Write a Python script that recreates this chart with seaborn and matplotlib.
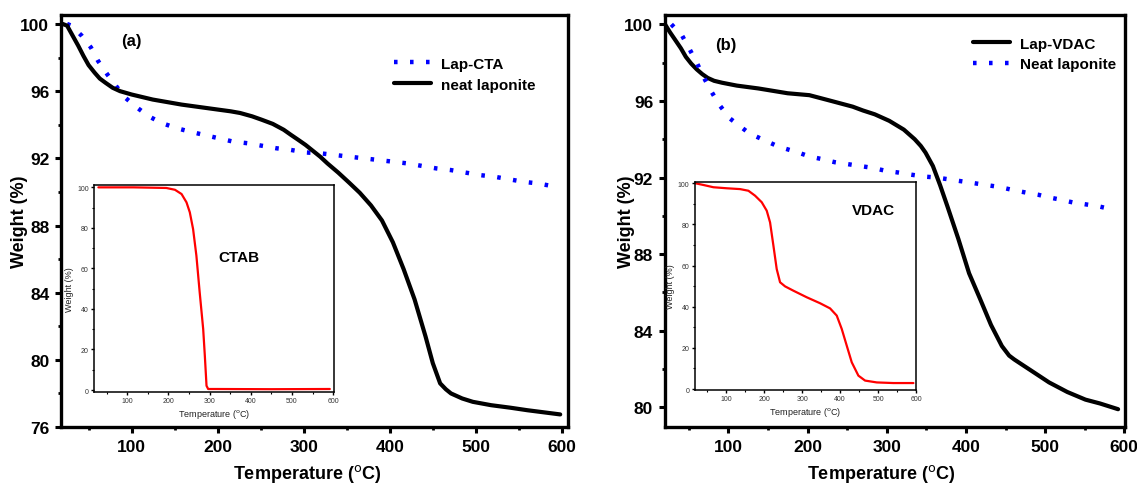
import matplotlib
matplotlib.use("Agg")
import matplotlib.pyplot as plt
import seaborn as sns
import pandas as pd
from matplotlib.ticker import MultipleLocator

# ---------------- data ----------------
# Panel (a)
a_cta_T = [25, 30, 42, 52.7, 61, 71.7, 82, 92.8, 106.8, 120, 135, 152, 166.8, 183.7, 200.6, 217.5,
           234.4, 251.3, 268, 285, 302, 319, 336, 352.7, 369.6, 386.6, 403.5, 420, 437, 454, 471,
           488, 505, 522, 538.7, 555.6, 572.5, 593.6]
a_cta_W = [100, 99.9, 99.3, 98.6, 97.8, 97.0, 96.3, 95.6, 95.0, 94.5, 94.1, 93.8, 93.6, 93.4, 93.2,
           93.0, 92.9, 92.75, 92.6, 92.5, 92.35, 92.3, 92.2, 92.1, 92.0, 91.9, 91.8, 91.7, 91.55,
           91.4, 91.3, 91.15, 91.0, 90.9, 90.75, 90.6, 90.5, 90.3]
a_neat_T = [20, 25, 31.5, 38, 44, 50, 57, 63, 69.6, 78, 86.5, 100, 124.5, 158, 200.6, 215, 226, 240,
            251, 264, 276.7, 285, 293.6, 302, 310.5, 319, 327.4, 340, 352.7, 365, 378, 390.8, 403.5,
            416, 428.7, 441.4, 449.9, 458.4, 465, 471, 484, 496.4, 517.6, 540, 559.8, 597.9]
a_neat_W = [100, 99.9, 99.3, 98.7, 98.1, 97.55, 97.1, 96.75, 96.5, 96.2, 96.0, 95.8, 95.5, 95.2, 94.9,
            94.8, 94.7, 94.5, 94.3, 94.05, 93.7, 93.4, 93.1, 92.8, 92.45, 92.1, 91.7, 91.15, 90.55,
            89.95, 89.2, 88.3, 87.0, 85.4, 83.6, 81.4, 79.8, 78.6, 78.25, 78.0, 77.7, 77.5, 77.3,
            77.15, 77.0, 76.75]
# Inset (a): CTAB
ctab_T = [30, 115, 195, 216, 232, 244, 252, 260, 268, 276, 284.5, 288.5, 292.6, 296.6, 317, 450, 592]
ctab_W = [100, 100, 99.7, 98.8, 96.7, 92.6, 87.7, 79.4, 66.3, 48.2, 30.1, 16.9, 2.1, 0.5, 0.5, 0.4, 0.5]

# Panel (b)
b_vdac_T = [20, 26, 32.6, 40, 46.3, 53, 60, 67, 73.9, 82, 92, 110.6, 138, 174.8, 202.3, 229.8, 257,
            270, 284.9, 303.2, 321.6, 335.3, 343, 349, 358.3, 367.4, 376.6, 390.4, 404, 418, 431.7,
            445.4, 454.6, 461, 468.3, 486.7, 505, 528, 551, 569.3, 592.2]
b_vdac_W = [100, 99.6, 99.2, 98.75, 98.3, 97.95, 97.65, 97.4, 97.2, 97.05, 96.95, 96.8, 96.65, 96.4,
            96.3, 96.0, 95.7, 95.5, 95.3, 94.96, 94.5, 94.0, 93.65, 93.3, 92.6, 91.6, 90.5, 88.8,
            87.0, 85.65, 84.3, 83.2, 82.7, 82.5, 82.3, 81.8, 81.3, 80.8, 80.4, 80.2, 79.9]
b_neat_T = [28, 41.7, 51, 60, 69.3, 78.4, 88.5, 101.4, 114, 126.6, 142.7, 158.7, 172.5, 188.5, 202.3,
            218.3, 234.4, 250.5, 266.5, 282.6, 298.6, 314.7, 330.7, 346.8, 362.8, 378.9, 395, 411,
            427, 443, 459, 477.5, 491.3, 505, 518.8, 534.9, 551, 567, 583]
b_neat_W = [100, 99.4, 98.7, 98.0, 97.2, 96.5, 95.8, 95.1, 94.7, 94.3, 94.0, 93.7, 93.5, 93.3, 93.1,
            92.96, 92.8, 92.7, 92.6, 92.5, 92.35, 92.26, 92.15, 92.05, 92.0, 91.9, 91.8, 91.7,
            91.6, 91.5, 91.35, 91.2, 91.1, 90.96, 90.85, 90.7, 90.6, 90.5, 90.35]
# Inset (b): VDAC
vdac_T = [20, 40.4, 66.7, 101.8, 136.8, 158.8, 176.3, 193.9, 207, 215.8, 224.6, 233.3, 242.1, 255.3,
          277.2, 312.3, 347.4, 373.7, 391.2, 404.4, 417.5, 430.7, 448.2, 465.8, 496.5, 540.4, 593]
vdac_W = [100, 99.2, 98.1, 97.6, 97.2, 96.4, 94.0, 90.8, 86.7, 81.0, 69.7, 58.3, 51.9, 49.9, 47.8,
          44.6, 41.7, 39.2, 35.7, 29.2, 21.1, 13.0, 6.5, 4.1, 3.2, 2.9, 2.9]

# ---------------- style ----------------
sns.set_style("ticks")
plt.rcParams['font.family'] = ['Liberation Sans', 'DejaVu Sans']
plt.rcParams['mathtext.default'] = 'regular'
for k in ['text.color', 'axes.labelcolor', 'axes.edgecolor', 'xtick.color', 'ytick.color']:
    plt.rcParams[k] = 'black'

BLUE = '#0000ff'
DOT = (0, (0.8, 2.8))
XLAB = r"Temperature ($^{\rm o}$C)"

fig = plt.figure(figsize=(11.37, 4.89), dpi=100)
axA = fig.add_axes([0.0537, 0.1247, 0.4459, 0.8431])
axB = fig.add_axes([0.5849, 0.1247, 0.4046, 0.8431])
inA = fig.add_axes([0.0829, 0.1969, 0.2108, 0.4233])
inB = fig.add_axes([0.6113, 0.2010, 0.1944, 0.4254])


def df(T, W):
    return pd.DataFrame({"T": T, "W": W})


# panel a
sns.lineplot(data=df(a_cta_T, a_cta_W), x="T", y="W", ax=axA, color=BLUE, lw=3.2,
             linestyle=DOT, label="Lap-CTA", sort=False)
sns.lineplot(data=df(a_neat_T, a_neat_W), x="T", y="W", ax=axA, color='black', lw=3.0,
             label="neat laponite", sort=False)
# panel b
sns.lineplot(data=df(b_vdac_T, b_vdac_W), x="T", y="W", ax=axB, color='black', lw=3.0,
             label="Lap-VDAC", sort=False)
sns.lineplot(data=df(b_neat_T, b_neat_W), x="T", y="W", ax=axB, color=BLUE, lw=3.2,
             linestyle=DOT, label="Neat laponite", sort=False)
# insets
sns.lineplot(data=df(ctab_T, ctab_W), x="T", y="W", ax=inA, color='red', lw=1.6, sort=False)
sns.lineplot(data=df(vdac_T, vdac_W), x="T", y="W", ax=inB, color='red', lw=1.6, sort=False)

for ax, ylim, ymaj in [(axA, (76, 100.55), 4), (axB, (78.97, 100.5), 4)]:
    ax.set_ylim(*ylim)
    ax.yaxis.set_major_locator(MultipleLocator(ymaj))
    ax.yaxis.set_minor_locator(MultipleLocator(ymaj / 2))
    ax.xaxis.set_major_locator(MultipleLocator(100))
    ax.xaxis.set_minor_locator(MultipleLocator(50))
    for s in ax.spines.values():
        s.set_visible(True)
        s.set_linewidth(2.4)
        s.set_color('black')
    ax.tick_params(which='major', direction='out', length=4.5, width=2.2, colors='black',
                   labelsize=12.5, pad=4, top=False, right=False)
    ax.tick_params(which='minor', direction='out', length=2.5, width=2.0, colors='black',
                   top=False, right=False)
    for lab in ax.get_xticklabels() + ax.get_yticklabels():
        lab.set_fontweight('bold')
    ax.set_xlabel(XLAB, fontsize=13, fontweight='bold', color='black')
    ax.set_ylabel("Weight (%)", fontsize=13, fontweight='bold', color='black')

axA.set_xlim(18, 607)
axB.set_xlim(20, 601)
axA.yaxis.set_label_coords(-0.066, 0.5)
axB.yaxis.set_label_coords(-0.066, 0.5)
axA.xaxis.set_label_coords(0.486, -0.085)
axB.xaxis.set_label_coords(0.47, -0.085)

axA.legend(loc='upper left', bbox_to_anchor=(0.657, 0.898), frameon=False, borderpad=0,
           borderaxespad=0, handlelength=2.4, handletextpad=0.65, labelspacing=0.45,
           prop={'weight': 'bold', 'size': 11})
axB.legend(loc='upper left', bbox_to_anchor=(0.670, 0.947), frameon=False, borderpad=0,
           borderaxespad=0, handlelength=2.4, handletextpad=0.65, labelspacing=0.45,
           prop={'weight': 'bold', 'size': 11})

axA.text(0.139, 0.938, "(a)", transform=axA.transAxes, ha='center', va='center',
         fontsize=12, fontweight='bold')
axB.text(0.133, 0.929, "(b)", transform=axB.transAxes, ha='center', va='center',
         fontsize=12, fontweight='bold')

for ax, xlim, ylim in [(inA, (20, 602), (-0.84, 101.3)), (inB, (18.4, 600), (-0.34, 100.8))]:
    ax.set_facecolor('white')
    ax.set_xlim(*xlim)
    ax.set_ylim(*ylim)
    ax.xaxis.set_major_locator(MultipleLocator(100))
    ax.xaxis.set_minor_locator(MultipleLocator(50))
    ax.yaxis.set_major_locator(MultipleLocator(20))
    ax.yaxis.set_minor_locator(MultipleLocator(10))
    for s in ax.spines.values():
        s.set_visible(True)
        s.set_linewidth(1.1)
        s.set_color('black')
    ax.tick_params(which='major', direction='out', length=2.5, width=1.0, labelsize=5,
                   pad=1.5, colors='black', labelcolor='#333333', top=False, right=False)
    ax.tick_params(which='minor', direction='out', length=1.5, width=0.8, colors='black',
                   top=False, right=False)
    ax.set_xlabel(XLAB, fontsize=6.5, labelpad=2, color='#222222')
    ax.set_ylabel("Weight (%)", fontsize=6.5, labelpad=2, color='#222222')

inA.text(0.604, 0.651, "CTAB", transform=inA.transAxes, ha='center', va='center',
         fontsize=11, fontweight='bold')
inB.text(0.805, 0.865, "VDAC", transform=inB.transAxes, ha='center', va='center',
         fontsize=11, fontweight='bold')

fig.savefig("out.png", dpi=100)
